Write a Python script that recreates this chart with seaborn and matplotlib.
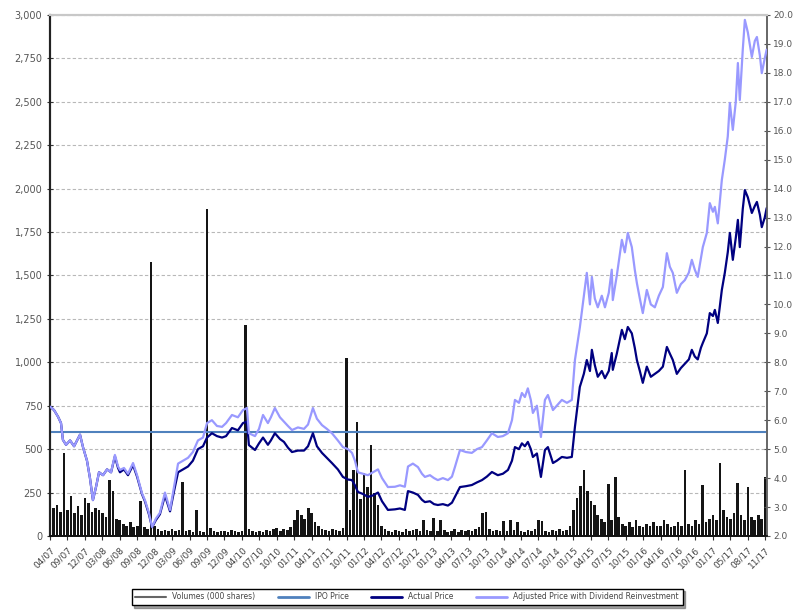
import numpy as np
import pandas as pd
import matplotlib
matplotlib.use("Agg")
import matplotlib.pyplot as plt
from matplotlib.lines import Line2D
from matplotlib.ticker import FuncFormatter
import seaborn as sns

# x axis labels (one every N trading days, as in the source sheet)
date_labels = ["04/07", "09/07", "12/07", "03/08", "06/08", "09/08", "12/08",
               "03/09", "06/09", "09/09", "12/09", "04/10", "07/10", "10/10",
               "01/11", "04/11", "07/11", "10/11", "01/12", "04/12", "07/12",
               "10/12", "01/13", "04/13", "07/13", "10/13", "01/14", "04/14",
               "07/14", "10/14", "01/15", "04/15", "07/15", "10/15", "01/16",
               "04/16", "07/16", "10/16", "01/17", "05/17", "08/17", "11/17"]

# volumes (000 shares), 5 readings per label interval
volumes = [210, 160, 180, 140, 480,
           150, 230, 130, 170, 120,
           220, 190, 140, 160, 150,
           130, 110, 322, 260, 100,
           90, 70, 60, 80, 50,
           60, 200, 50, 40, 1578,
           60, 40, 30, 35, 30,
           40, 30, 35, 311, 30,
           35, 25, 150, 30, 25,
           1883, 45, 30, 25, 30,
           30, 25, 35, 30, 25,
           30, 1215, 40, 30, 25,
           30, 25, 35, 30, 40,
           45, 30, 40, 35, 50,
           90, 150, 120, 100, 160,
           130, 80, 60, 40, 35,
           30, 40, 35, 30, 45,
           1025, 150, 380, 656, 210,
           360, 280, 524, 250, 180,
           60, 40, 30, 25, 35,
           30, 25, 40, 30, 35,
           40, 30, 92, 35, 30,
           104, 30, 90, 35, 25,
           30, 40, 25, 35, 30,
           35, 30, 40, 50, 132,
           138, 40, 30, 35, 30,
           85, 30, 90, 35, 80,
           30, 25, 35, 30, 40,
           90, 85, 30, 25, 35,
           30, 40, 30, 35, 60,
           150, 220, 290, 380, 260,
           200, 180, 120, 100, 80,
           300, 90, 340, 110, 70,
           60, 80, 50, 90, 60,
           50, 70, 60, 80, 55,
           60, 90, 70, 50, 60,
           80, 60, 380, 70, 60,
           90, 70, 294, 80, 100,
           120, 90, 420, 150, 110,
           100, 130, 305, 120, 90,
           282, 110, 90, 120, 100,
           340]

# price readings: position in label units, actual and adjusted price
price_t = [0.00, 0.23, 0.46, 0.63, 0.74, 0.92, 1.15, 1.38, 1.55, 1.72,
           1.89, 2.12, 2.29, 2.46, 2.64, 2.81, 3.04, 3.27, 3.50, 3.72,
           3.90, 4.01, 4.24, 4.47, 4.76, 4.99, 5.27, 5.44, 5.67, 5.85,
           6.07, 6.30, 6.59, 6.88, 7.11, 7.34, 7.62, 7.91, 8.19, 8.48,
           8.77, 9.00, 9.28, 9.57, 9.86, 10.09, 10.43, 10.77, 11.06, 11.29,
           11.40, 11.75, 11.98, 12.21, 12.49, 12.66, 12.89, 13.18, 13.41, 13.64,
           13.87, 14.21, 14.56, 14.79, 15.07, 15.30, 15.59, 15.87, 16.16, 16.50,
           16.79, 17.08, 17.31, 17.48, 17.65, 17.94, 18.22, 18.51, 18.80, 19.03,
           19.37, 19.77, 20.06, 20.34, 20.52, 20.80, 21.09, 21.32, 21.49, 21.78,
           22.01, 22.23, 22.52, 22.81, 23.04, 23.21, 23.50, 23.84, 24.18, 24.47,
           24.76, 25.04, 25.33, 25.67, 25.96, 26.25, 26.48, 26.65, 26.88, 27.05,
           27.22, 27.39, 27.56, 27.68, 27.91, 28.14, 28.37, 28.54, 28.83, 29.05,
           29.34, 29.63, 29.91, 30.09, 30.37, 30.60, 30.77, 30.95, 31.06, 31.23,
           31.40, 31.63, 31.81, 32.03, 32.20, 32.26, 32.49, 32.78, 32.95, 33.12,
           33.35, 33.52, 33.64, 33.81, 33.98, 34.21, 34.44, 34.67, 34.90, 35.13,
           35.36, 35.53, 35.70, 35.93, 36.16, 36.39, 36.62, 36.79, 36.96, 37.13,
           37.31, 37.42, 37.65, 37.82, 38.00, 38.11, 38.28, 38.51, 38.68, 38.85,
           38.97, 39.14, 39.31, 39.43, 39.54, 39.71, 39.83, 40.00, 40.23, 40.40,
           40.52, 40.69, 40.80, 40.97, 41.08]

adjusted_price = [6.47, 6.35, 6.12, 5.90, 5.32, 5.15, 5.30, 5.10, 5.30, 5.50,
                  5.07, 4.60, 4.00, 3.24, 3.70, 4.20, 4.10, 4.30, 4.20, 4.80,
                  4.40, 4.28, 4.35, 4.15, 4.52, 4.10, 3.48, 3.24, 2.80, 2.31,
                  2.60, 2.80, 3.50, 2.90, 3.70, 4.50, 4.60, 4.70, 4.90, 5.30,
                  5.40, 5.90, 6.00, 5.80, 5.77, 5.90, 6.18, 6.10, 6.35, 6.42,
                  5.55, 5.45, 5.70, 6.18, 5.90, 6.10, 6.42, 6.10, 5.95, 5.80,
                  5.66, 5.75, 5.70, 5.85, 6.42, 6.05, 5.83, 5.70, 5.55, 5.30,
                  5.07, 5.00, 4.87, 4.60, 4.20, 4.15, 4.10, 4.20, 4.30, 4.00,
                  3.69, 3.70, 3.75, 3.70, 4.40, 4.50, 4.38, 4.15, 4.04, 4.10,
                  4.00, 3.93, 4.00, 3.93, 4.05, 4.38, 4.97, 4.90, 4.87, 5.00,
                  5.07, 5.30, 5.55, 5.42, 5.45, 5.55, 6.00, 6.70, 6.60, 6.94,
                  6.80, 7.10, 6.70, 6.25, 6.50, 5.42, 6.70, 6.87, 6.35, 6.50,
                  6.70, 6.60, 6.70, 8.08, 9.20, 10.30, 11.09, 10.00, 10.95, 10.20,
                  9.90, 10.30, 9.90, 10.40, 11.20, 10.15, 11.00, 12.23, 11.80, 12.47,
                  11.98, 11.20, 10.74, 10.20, 9.70, 10.50, 10.00, 9.90, 10.30, 10.60,
                  11.77, 11.30, 11.09, 10.40, 10.70, 10.84, 11.10, 11.54, 11.20, 10.95,
                  11.60, 11.98, 12.47, 13.50, 13.20, 13.37, 12.80, 14.30, 15.00, 15.80,
                  16.96, 16.03, 17.00, 18.34, 17.06, 18.80, 19.83, 19.40, 18.55, 19.10,
                  19.24, 18.60, 17.99, 18.50, 18.80]

actual_price = [6.47, 6.35, 6.12, 5.90, 5.32, 5.15, 5.30, 5.10, 5.30, 5.50,
                5.07, 4.60, 4.00, 3.24, 3.70, 4.20, 4.10, 4.30, 4.20, 4.75,
                4.35, 4.20, 4.30, 4.10, 4.45, 4.05, 3.45, 3.20, 2.75, 2.30,
                2.55, 2.75, 3.40, 2.85, 3.55, 4.20, 4.30, 4.40, 4.60, 5.00,
                5.10, 5.40, 5.55, 5.45, 5.40, 5.45, 5.73, 5.65, 5.90, 5.95,
                5.14, 4.97, 5.20, 5.40, 5.15, 5.30, 5.55, 5.35, 5.25, 5.05,
                4.90, 4.95, 4.95, 5.10, 5.55, 5.10, 4.87, 4.70, 4.52, 4.30,
                4.04, 3.95, 3.93, 3.75, 3.52, 3.45, 3.35, 3.40, 3.50, 3.20,
                2.90, 2.92, 2.95, 2.90, 3.55, 3.50, 3.42, 3.25, 3.17, 3.20,
                3.10, 3.07, 3.10, 3.05, 3.15, 3.35, 3.69, 3.72, 3.76, 3.85,
                3.93, 4.05, 4.21, 4.10, 4.15, 4.28, 4.60, 5.07, 5.00, 5.20,
                5.10, 5.25, 5.00, 4.73, 4.85, 4.04, 4.97, 5.07, 4.52, 4.60,
                4.73, 4.70, 4.73, 5.77, 7.15, 7.60, 8.08, 7.70, 8.43, 7.90,
                7.50, 7.70, 7.45, 7.70, 8.32, 7.74, 8.30, 9.12, 8.80, 9.22,
                9.00, 8.50, 8.08, 7.70, 7.29, 7.85, 7.50, 7.60, 7.70, 7.85,
                8.53, 8.30, 8.08, 7.60, 7.80, 7.95, 8.10, 8.43, 8.20, 8.10,
                8.50, 8.67, 9.00, 9.70, 9.60, 9.81, 9.36, 10.50, 11.09, 11.80,
                12.47, 11.54, 12.30, 12.92, 11.98, 13.30, 13.95, 13.70, 13.16, 13.40,
                13.54, 13.10, 12.67, 13.00, 13.33]

ipo_price = 5.6

sns.set_style("white")
plt.rcParams["font.family"] = ["DejaVu Sans"]

fig = plt.figure(figsize=(7.95, 6.11), dpi=100)
ax = fig.add_axes([0.0629, 0.1228, 0.9019, 0.8527])

# volume bars on the left axis
vol_t = np.arange(len(volumes)) * 0.2
ax.bar(vol_t, volumes, width=0.15, color="#151515", linewidth=0)
ax.set_ylim(0, 3000)
ax.set_yticks(range(0, 3001, 250))
ax.yaxis.set_major_formatter(FuncFormatter(lambda v, p: f"{v:,.0f}"))
ax.grid(axis="y", linestyle=(0, (3, 2)), color="#b8b8b8", lw=0.8)
ax.set_axisbelow(True)
ax.set_xlim(0, 41.1)
ax.set_xticks(range(len(date_labels)))
ax.set_xticklabels(date_labels, rotation=45, ha="right", rotation_mode="anchor",
                   fontsize=6.5, color="#444444")
ax.tick_params(axis="y", labelsize=7, labelcolor="#555555", direction="inout",
               length=4, left=True, color="#333333")
ax.tick_params(axis="x", direction="out", length=3, bottom=True, color="#333333")

# prices on the right axis
ax2 = ax.twinx()
ax2.axhline(ipo_price, color="#4f81bd", lw=1.5, zorder=1)
df = pd.DataFrame({"t": price_t, "actual": actual_price, "adjusted": adjusted_price})
sns.lineplot(data=df, x="t", y="actual", color="#000080", lw=1.6, ax=ax2, zorder=2)
sns.lineplot(data=df, x="t", y="adjusted", color="#9999ff", lw=1.6, ax=ax2, zorder=3)
ax2.set_ylim(2, 20)
ax2.set_yticks(np.arange(2, 20.1, 1))
ax2.yaxis.set_major_formatter(FuncFormatter(lambda v, p: f"{v:.1f}"))
ax2.set_xlabel("")
ax2.set_ylabel("")
ax.set_ylabel("")
ax2.tick_params(axis="y", labelsize=6.5, labelcolor="#555555", direction="inout",
                length=5, pad=2, right=True, color="#555555")

for a in (ax, ax2):
    a.spines["left"].set_color("#222222")
    a.spines["left"].set_linewidth(1.5)
    a.spines["bottom"].set_color("#111111")
    a.spines["bottom"].set_linewidth(1.2)
    a.spines["right"].set_color("#666666")
    a.spines["right"].set_linewidth(1.2)
    a.spines["top"].set_color("#c8c8c8")
    a.spines["top"].set_linewidth(1.5)

handles = [Line2D([], [], color="#666666", lw=1.5),
           Line2D([], [], color="#4f81bd", lw=2),
           Line2D([], [], color="#000080", lw=2),
           Line2D([], [], color="#9999ff", lw=2)]
labels = ["Volumes (000 shares)", "IPO Price", "Actual Price",
          "Adjusted Price with Dividend Reinvestment"]
leg = fig.legend(handles, labels, loc="center", bbox_to_anchor=(0.512, 0.023),
                 ncol=4, fontsize=5.5, frameon=True, fancybox=False, shadow=True,
                 handlelength=4, columnspacing=3, borderpad=0.5,
                 edgecolor="black", labelcolor="#444444")
leg.get_frame().set_linewidth(1.0)

fig.savefig("out.png", dpi=100)
